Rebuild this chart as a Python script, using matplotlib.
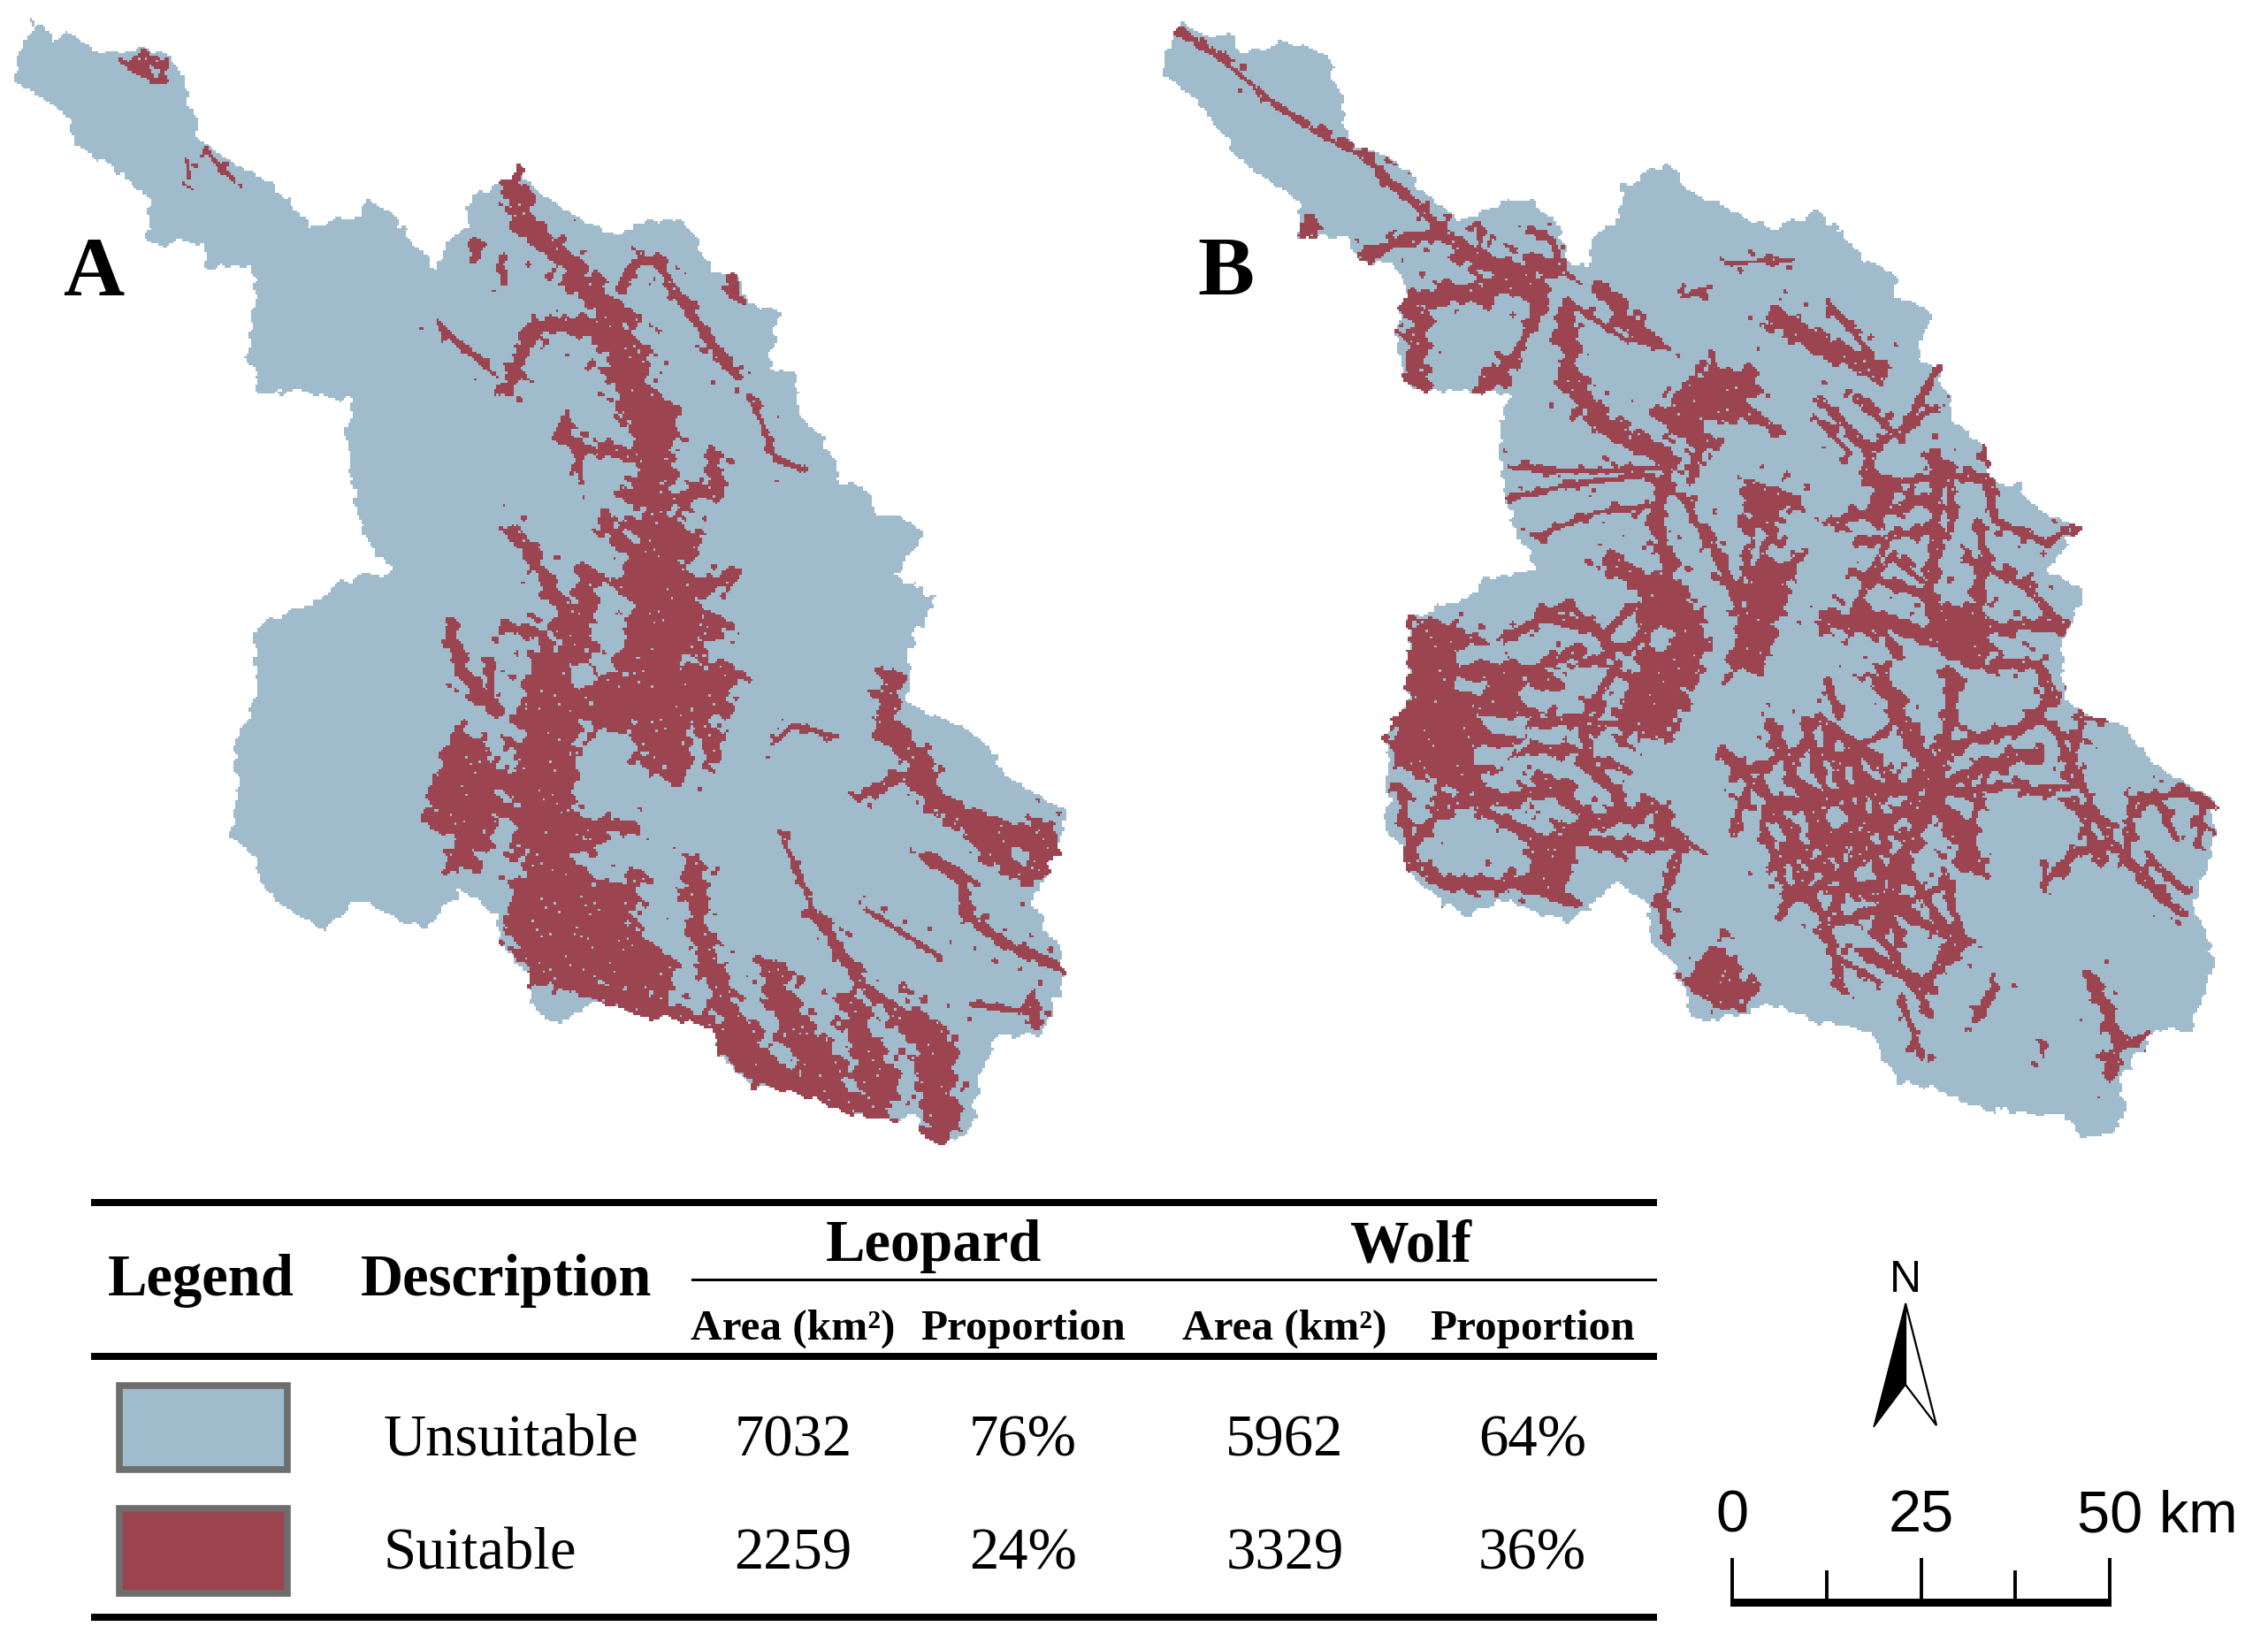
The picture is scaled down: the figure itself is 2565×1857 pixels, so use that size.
import numpy as np
import matplotlib
matplotlib.use("Agg")
import matplotlib.pyplot as plt
from matplotlib.patches import Polygon, Rectangle
from matplotlib.path import Path

BLUE = "#A0BBCC"
RED = "#9C444F"
SERIF = "Liberation Serif"
SANS = "Liberation Sans"

# ---- table ----
species = ["Leopard", "Wolf"]
classes = ["Unsuitable", "Suitable"]
leopard_area = [7032, 2259]
leopard_prop = ["76%", "24%"]
wolf_area = [5962, 3329]
wolf_prop = ["64%", "36%"]
scale_km = [0, 12.5, 25, 37.5, 50]
scale_labels = {0: "0", 25: "25"}

# ---- map A ----
outline_a = [(45,30),(75,50),(105,50),(130,72),(165,70),(190,65),(225,68),(245,85),(258,115),(268,150),(280,185),(315,212),(355,232),(395,262),(430,300),(470,293),(490,292),(512,268),(545,285),(580,330),(605,362),(618,318),(645,310),(655,262),(700,240),(720,222),(745,250),(790,285),(850,315),(885,295),(945,292),(975,335),(985,360),(1025,365),(1035,402),(1082,415),(1065,490),(1100,495),(1112,560),(1155,600),(1160,635),(1205,650),(1210,680),(1250,685),(1283,708),(1240,760),(1298,790),(1258,860),(1260,930),(1290,945),(1345,965),(1400,1030),(1450,1060),(1478,1075),(1470,1120),(1430,1200),(1470,1260),(1475,1290),(1440,1375),(1385,1365),(1360,1420),(1350,1480),(1335,1510),(1290,1510),(1265,1480),(1195,1480),(1165,1470),(1100,1445),(1040,1440),(1000,1400),(985,1360),(900,1345),(830,1325),(770,1355),(745,1340),(730,1290),(690,1240),(690,1210),(640,1180),(590,1228),(560,1220),(500,1190),(450,1230),(400,1205),(370,1180),(345,1125),(322,1105),(330,1050),(325,985),(355,930),(355,830),(450,790),(470,770),(550,755),(510,720),(495,680),(480,580),(490,530),(420,520),(360,520),(345,480),(350,400),(360,385),(345,355),(290,355),(280,325),(205,320),(210,265),(160,225),(110,195),(85,150),(20,105),(20,85)]
blobs_a = [
 [(170,85),(205,68),(240,85),(225,115),(190,100)],
 [(595,1050),(630,960),(680,985),(700,1060),(660,1150),(610,1155),(625,1110),(590,1100)],
 [(710,1160),(790,1130),(830,1170),(900,1150),(880,1220),(935,1280),(925,1325),(830,1310),(760,1310),(700,1245)],
 [(820,900),(900,870),(1015,880),(1010,960),(960,950),(950,1030),(920,1030),(880,960),(820,980)],
 [(880,720),(975,700),(950,760),(1015,760),(960,800),(1015,830),(960,870),(860,880),(870,800),(850,770)],
 [(830,420),(880,440),(905,520),(945,550),(930,640),(870,650),(880,590),(850,530)],
 [(735,860),(790,860),(815,770),(830,760),(820,880),(840,920),(800,980),(800,1090),(860,1090),(800,1130),(820,1160),(720,1120),(700,1050),(720,980)],
 [(700,240),(730,230),(745,300),(840,375),(860,420),(830,430),(760,340),(700,290)],
 [(1000,1365),(1040,1350),(1100,1430),(1040,1440)],
 [(1060,1290),(1100,1330),(1170,1400),(1180,1470),(1110,1440)],
 [(1170,1330),(1250,1420),(1240,1470),(1190,1480)],
 [(1250,1310),(1320,1370),(1330,1500),(1280,1500)],
 [(1340,1080),(1440,1090),(1470,1140),(1420,1175),(1350,1130)],
 [(1210,950),(1250,950),(1300,1040),(1270,1070),(1240,1000)],
]
holes_a = [[(205,85),(222,92),(215,100)],[(1395,1118),(1430,1125),(1420,1150)],[(790,880),(818,878),(825,905),(795,912)]]
branches_a = [
 (26,[(712,235),(720,285),(760,325)]),(30,[(760,325),(810,375),(845,420)]),
 (55,[(845,420),(870,490),(895,560)]),(44,[(895,560),(910,640),(910,700)]),
 (70,[(910,700),(920,790),(915,860),(905,910)]),(12,[(860,385),(880,350),(910,348),(935,385),(975,440),(1020,500)]),
 (20,[(740,435),(790,430),(840,440)]),(16,[(740,435),(720,480),(705,515)]),
 (4,[(605,425),(640,460),(690,500)]),(12,[(1015,370),(1020,395)]),(12,[(655,325),(660,340)]),(9,[(695,350),(700,375)]),
 (5,[(1040,525),(1060,570),(1075,610),(1115,622)]),(14,[(775,575),(810,595),(880,605)]),(6,[(785,545),(790,590)]),(6,[(800,600),(805,640)]),
 (20,[(870,655),(930,660),(990,650),(990,615)]),(20,[(840,695),(880,730),(950,710)]),(14,[(855,770),(920,770),(1010,770)]),
 (8,[(1015,755),(970,790)]),(8,[(950,800),(1015,830)]),(26,[(860,880),(1010,900)]),
 (34,[(905,910),(940,1020)]),(22,[(960,930),(990,1000)]),(34,[(880,920),(900,1000)]),(50,[(830,925),(900,935)]),
 (18,[(710,700),(750,755),(790,820)]),(40,[(790,820),(790,900),(760,950)]),(24,[(815,760),(800,850)]),(16,[(700,830),(750,840),(770,880)]),
 (72,[(770,900),(745,1000),(745,1100),(780,1180),(810,1260)]),(16,[(625,835),(640,890),(690,940)]),(10,[(680,875),(680,930)]),
 (14,[(800,1090),(880,1095)]),(10,[(800,1120),(840,1110)]),(30,[(700,1030),(640,1060)]),
 (26,[(740,1290),(830,1310),(930,1340),(1000,1365),(1040,1420),(1110,1440),(1170,1465)]),
 (28,[(960,1150),(970,1240),(1010,1340),(1050,1410)]),(38,[(1070,1290),(1110,1380),(1170,1460)]),(36,[(1180,1330),(1210,1420),(1210,1475)]),
 (5,[(1085,1110),(1130,1210)]),(14,[(1130,1210),(1200,1310),(1260,1350)]),(38,[(1260,1350),(1300,1400),(1300,1500)]),
 (26,[(1235,900),(1225,960),(1280,1010),(1290,1060),(1360,1100),(1420,1160),(1465,1130),(1440,1095)]),
 (14,[(1200,1050),(1260,1025)]),(4,[(1070,985),(1100,960),(1160,975)]),
 (14,[(1285,1135),(1330,1160),(1340,1210),(1390,1250),(1470,1280)]),(5,[(1200,1205),(1260,1240),(1300,1265)]),
 (5,[(1345,1330),(1430,1340)]),(14,[(1430,1320),(1435,1355)]),(3,[(285,200),(325,240)]),(3,[(260,215),(262,235)]),
]

# ---- map B ----
outline_b = [(68,30),(105,48),(135,45),(150,70),(210,60),(265,70),(290,130),(300,195),(350,210),(410,255),(450,295),(520,268),(550,262),(590,300),(600,345),(632,355),(638,310),(665,300),(680,245),(740,218),(770,255),(850,290),(885,305),(940,282),(990,315),(1010,350),(1050,365),(1055,395),(1103,408),(1080,480),(1115,490),(1135,560),(1175,590),(1190,640),(1225,640),(1250,680),(1305,700),(1265,755),(1315,780),(1285,850),(1285,925),(1310,945),(1365,960),(1420,1020),(1495,1060),(1490,1130),(1465,1200),(1495,1270),(1460,1365),(1410,1365),(1365,1430),(1370,1480),(1345,1503),(1310,1505),(1285,1475),(1220,1475),(1170,1465),(1110,1440),(1060,1435),(1030,1390),(1020,1365),(950,1355),(880,1330),(820,1350),(775,1350),(755,1290),(715,1245),(715,1200),(670,1165),(610,1220),(570,1210),(505,1190),(470,1215),(420,1190),(390,1170),(370,1120),(347,1095),(355,1040),(350,975),(380,925),(380,820),(470,790),(490,765),(565,755),(535,720),(515,660),(505,570),(520,525),(470,520),(385,515),(365,470),(370,410),(380,395),(365,350),(315,348),(300,315),(230,315),(230,270),(180,235),(135,195),(105,150),(45,100),(45,80)]
blobs_b = [
 [(228,295),(245,282),(262,305),(250,315),(232,312)],
 [(380,825),(440,820),(510,850),(540,890),(600,880),(570,950),(510,1010),(470,1060),(420,1040),(370,1020),(350,975),(380,925)],
 [(545,1110),(620,1100),(600,1190),(545,1170)],
 [(760,1290),(820,1240),(840,1290),(875,1310),(810,1345),(780,1320)],
 [(1110,810),(1170,790),(1195,860),(1170,890),(1110,870)],
 [(375,390),(410,385),(410,510),(380,510)],
 [(735,580),(750,525),(800,490),(870,500),(850,560),(790,560),(775,590)],
 [(690,760),(750,750),(800,840),(770,920),(740,980),(680,985),(660,960),(700,860)],
 [(845,650),(915,650),(880,740),(910,760),(880,880),(820,900),(840,790)],
 [(1015,640),(1060,640),(1060,680),(1020,690)],
]
holes_b = [
 [(445,862),(510,850),(520,875),(450,880)],[(480,950),(550,950),(540,975),(495,970)],[(470,990),(530,990),(510,1015),(475,1010)],
 [(535,905),(590,920),(570,945),(535,930)],[(450,900),(490,905),(480,920),(445,915)],[(715,830),(750,840),(735,865),(715,855)],
 [(815,640),(840,650),(830,700)],[(860,700),(875,710),(855,760)],
]
branches_b = [
 (4,[(68,40),(130,85),(200,140),(260,180),(320,210)]),(10,[(320,210),(380,260),(420,300)]),(14,[(420,300),(470,340)]),
 (26,[(460,335),(530,360),(590,355)]),(8,[(550,305),(580,320),(590,350),(555,380)]),(5,[(480,295),(480,340)]),
 (14,[(320,340),(375,320),(420,310),(460,330)]),(26,[(390,400),(480,385),(550,375)]),
 (28,[(555,380),(560,410)]),(9,[(560,410),(530,470),(480,520)]),(24,[(520,480),(490,510)]),
 (26,[(600,420),(605,510),(650,560),(740,610)]),(4,[(600,400),(680,450),(735,460)]),(22,[(650,385),(680,420),(715,445)]),
 (5,[(520,620),(640,625),(740,620)]),(5,[(520,660),(620,640),(720,630)]),(4,[(560,710),(640,680),(720,670)]),
 (18,[(740,620),(720,690),(745,750),(720,790)]),(24,[(660,740),(700,770)]),
 (28,[(740,550),(780,510),(850,500)]),(28,[(750,560),(790,590)]),(10,[(770,640),(790,580)]),(8,[(800,470),(810,510)]),(8,[(850,540),(890,575)]),
 (24,[(850,650),(910,660)]),(22,[(860,730),(860,880)]),(26,[(880,700),(860,760)]),(14,[(790,700),(830,780),(860,870)]),(8,[(760,660),(820,760)]),(14,[(870,790),(915,740)]),
 (24,[(890,420),(960,460),(1030,490)]),(6,[(960,400),(1020,470)]),(9,[(950,530),(1000,580)]),(4,[(760,395),(800,380)]),(3,[(820,350),(910,345)]),
 (8,[(1000,530),(1060,580),(1110,490)]),(6,[(950,560),(990,600)]),
 (7,[(1010,600),(1060,570),(1110,540)]),(14,[(1010,590),(1030,660),(1030,700)]),(18,[(1110,600),(1110,700),(1100,800),(1130,870)]),
 (8,[(1150,620),(1180,640),(1190,690),(1260,720),(1300,700)]),(14,[(970,690),(1030,680),(1110,660)]),(10,[(1000,720),(1110,700)]),
 (8,[(1010,640),(1180,630)]),(10,[(1180,590),(1190,690)]),(10,[(1130,620),(1130,700)]),(10,[(1010,800),(1060,870)]),(10,[(1150,740),(1240,780),(1280,830)]),(8,[(1030,740),(1000,800)]),
 (28,[(960,820),(1060,830),(1130,850)]),(14,[(1170,760),(1170,830),(1280,830)]),(7,[(1010,770),(1050,740),(1090,770)]),
 (14,[(1190,880),(1250,880),(1270,920),(1240,960),(1130,990),(1090,1040)]),(10,[(1000,760),(1100,790)]),(10,[(1170,700),(1180,760)]),
 (18,[(1130,890),(1130,960),(1110,1030)]),(24,[(1030,890),(1060,950),(1100,1020)]),(8,[(960,900),(975,950)]),
 (32,[(1100,1040),(1160,1140)]),(24,[(1100,1060),(1060,1140),(1030,1230)]),(22,[(1090,1040),(990,1050),(880,1070)]),
 (18,[(1090,1060),(960,1130),(900,1200)]),(14,[(1060,1040),(950,950)]),(18,[(1100,1050),(1190,1010),(1250,1000)]),(10,[(1130,1050),(1220,1040)]),
 (16,[(880,960),(930,1060),(960,1150)]),(14,[(820,1000),(880,1060),(930,1130)]),(14,[(930,960),(960,1060)]),
 (14,[(1000,1000),(1010,1100),(970,1200)]),(10,[(900,1120),(960,1230),(980,1310)]),(10,[(1060,1140),(1130,1240),(1090,1320)]),
 (14,[(1010,1260),(1090,1300),(1150,1250)]),(10,[(1020,1120),(1060,1250)]),(10,[(870,1090),(900,1170)]),(5,[(1060,1320),(1090,1400)]),
 (10,[(850,1040),(830,1100)]),(10,[(1040,970),(980,1000)]),(10,[(960,1180),(1030,1170)]),(8,[(1130,1170),(1060,1200)]),
 (12,[(830,1030),(930,990),(1000,1010)]),(12,[(880,1150),(1000,1090)]),(12,[(920,1190),(1040,1120)]),(10,[(950,1230),(1070,1190)]),(10,[(1000,1180),(1140,1250)]),
 (6,[(960,1260),(1030,1300)]),(10,[(1040,1250),(1100,1340)]),(12,[(870,1040),(920,1130)]),(12,[(960,980),(1000,1100)]),(14,[(1020,1040),(1040,1120)]),(12,[(940,1060),(1000,1190)]),
 (8,[(1150,1120),(1180,1020)]),(10,[(1120,1150),(1140,1230)]),
 (20,[(430,1060),(520,1060),(600,1040)]),(14,[(380,1125),(430,1075)]),(16,[(480,1070),(560,1110),(700,1120),(760,1120)]),(18,[(390,1140),(430,1170),(520,1170),(600,1190)]),
 (22,[(600,1100),(720,1070),(760,1120)]),(10,[(760,1120),(730,1200),(740,1240)]),(12,[(560,820),(640,830),(670,880),(620,960),(640,1030)]),
 (14,[(520,900),(620,860)]),(12,[(550,960),(640,950)]),(14,[(620,1000),(690,1080)]),(10,[(370,1040),(385,1130)]),(16,[(560,1030),(640,1090)]),
 (10,[(510,850),(600,800)]),(8,[(600,800),(650,840),(700,800)]),(10,[(620,880),(700,850)]),(10,[(640,960),(700,960)]),(10,[(500,1000),(600,990),(680,1020)]),
 (10,[(1270,960),(1290,1000),(1340,1100),(1420,1190),(1450,1210)]),(10,[(1380,1060),(1450,1050),(1495,1070)]),
 (10,[(1380,1060),(1370,1140),(1430,1190)]),(10,[(1260,1170),(1300,1130),(1360,1120)]),(4,[(1300,950),(1360,955)]),(9,[(1230,1050),(1310,1040)]),
 (4,[(1260,1150),(1260,1180)]),(6,[(1400,1130),(1450,1180)]),(12,[(1300,1060),(1340,1140)]),(8,[(1410,1050),(1440,1110)]),(8,[(1480,1060),(1470,1120)]),(10,[(1310,960),(1290,1030)]),(6,[(1370,1090),(1400,1060)]),
 (14,[(1320,1290),(1360,1370),(1350,1420)]),(8,[(1340,1400),(1400,1370)]),(12,[(1190,1310),(1165,1350)]),(3,[(1255,1380),(1258,1400)]),
]

fig = plt.figure(figsize=(25.65, 18.58), dpi=100, facecolor="white")
ax = fig.add_axes([0, 0, 1, 1])
ax.axis("off")

CELL = 2.5   # the reference is a raster map; cells are this many pixels wide

def seg_dist(X, Y, a, b):
    dx, dy = b[0]-a[0], b[1]-a[1]
    t = np.clip(((X-a[0])*dx + (Y-a[1])*dy) / max(dx*dx+dy*dy, 1e-6), 0, 1)
    return np.hypot(X-a[0]-t*dx, Y-a[1]-t*dy)

def edge_texture(X, Y):
    # fixed, non-random ripple that roughens the edge of every read-off shape
    t = (np.sin(0.21*X+0.09*Y+0.3) + np.sin(-0.12*X+0.24*Y+1.1) + np.sin(0.07*X-0.16*Y+2.3)
         + 0.7*np.sin(0.37*X+0.27*Y+0.7) + 0.7*np.sin(-0.31*X+0.43*Y+1.9))
    return t/2.6

def signed(X, Y, flat, p):
    ring = p + p[:1]
    d = np.min([seg_dist(X, Y, u, v) for u, v in zip(ring, ring[1:])], axis=0)
    inside = Path(p).contains_points(flat).reshape(X.shape)
    return np.where(inside, -d, d)

def raster(mask, color, gx, gy, z):
    rgba = np.zeros(mask.shape+(4,))
    rgba[..., :3] = matplotlib.colors.to_rgb(color)
    rgba[..., 3] = mask
    ax.imshow(rgba, extent=(gx[0], gx[-1]+CELL, gy[-1]+CELL, gy[0]), origin="upper",
              interpolation="nearest", aspect="auto", zorder=z)

def draw_map(outline, blobs, branches, holes, sx, sy, x0):
    tr = lambda pts: [(p[0]*sx + x0, p[1]*sy) for p in pts]
    o = tr(outline)
    xs = [p[0] for p in o]; ys = [p[1] for p in o]
    gx = np.arange(min(xs)-12, max(xs)+12, CELL); gy = np.arange(min(ys)-12, max(ys)+12, CELL)
    X, Y = np.meshgrid(gx+CELL/2, gy+CELL/2)
    flat = np.c_[X.ravel(), Y.ravel()]
    tex = edge_texture(X, Y)
    land = signed(X, Y, flat, o) < tex*4
    mask = np.zeros(X.shape, bool)
    for w, pts in branches:
        p = tr(pts)
        d = np.min([seg_dist(X, Y, a, b) for a, b in zip(p, p[1:])], axis=0)
        half = w*sx/2
        mask |= d < half*(1 + 0.55*tex) + 8*np.maximum(tex, 0)**2 + 1.2
    for b in blobs:
        mask |= signed(X, Y, flat, tr(b)) < tex*9
    for h in holes:
        mask &= ~(signed(X, Y, flat, tr(h)) < tex*3)
    fleck = (np.sin(0.71*X+0.29*Y) + np.sin(-0.39*X+0.83*Y+0.6) + np.sin(0.97*X-0.59*Y+1.4)
             + np.sin(0.173*X+0.611*Y+2.2) + np.sin(-0.857*X-0.131*Y+0.9))
    mask &= fleck < 3.5
    raster(land, BLUE, gx, gy, 2)
    raster(mask & land, RED, gx, gy, 3)

draw_map(outline_a, blobs_a, branches_a, holes_a, 0.8168, 0.855, 0)
draw_map(outline_b, blobs_b, branches_b, holes_b, 0.82, 0.855, 1280)
ax.set_xlim(0, 2565)
ax.set_ylim(1858, 0)

def T(x, y, s, size, weight="normal", ha="center", family=SERIF):
    ax.text(x, y, s, fontsize=size, fontweight=weight, ha=ha, va="baseline", family=family, color="black", zorder=6)

T(106, 334, "A", 69, "bold")
T(1386, 334, "B", 69, "bold")

# table rules
for y, h, x0 in [(1361, 8, 103), (1448, 3, 782), (1535, 8, 103), (1830, 8, 103)]:
    ax.add_patch(Rectangle((x0, y-h/2), 1874-x0, h, fc="black", ec="none", zorder=5))

T(227, 1465, "Legend", 48, "bold")
T(573, 1465, "Description", 48, "bold")
T(1056, 1426, species[0], 48, "bold")
T(1596, 1426, species[1], 48, "bold")
for x, s in zip([897, 1157, 1453, 1733], ["Area (km²)", "Proportion", "Area (km²)", "Proportion"]):
    T(x, 1515, s, 35.5, "bold")

rows_y = [1647, 1775]
swatch_y = [(1564, 1667), (1703, 1807)]
for i, cl in enumerate(classes):
    y0, y1 = swatch_y[i]
    ax.add_patch(Rectangle((135, y0+4), 190, y1-y0-8, fc=[BLUE, RED][i], ec="#6E6E6E", lw=5.5, zorder=5))
    T(434, rows_y[i], cl, 48, ha="left")
    T(897, rows_y[i], str(leopard_area[i]), 48)
    T(1157, rows_y[i], leopard_prop[i], 48)
    T(1453, rows_y[i], str(wolf_area[i]), 48)
    T(1733, rows_y[i], wolf_prop[i], 48)

# north arrow
T(2155, 1461, "N", 36, family=SANS)
ax.add_patch(Polygon([(2155, 1475), (2119, 1615), (2155, 1567)], closed=True, fc="black", ec="black", lw=1, zorder=5))
ax.add_patch(Polygon([(2155, 1475), (2190, 1613), (2155, 1567)], closed=True, fc="white", ec="black", lw=1.6, zorder=5))

# scale bar
sx0, sx1 = 1959, 2386
km2x = lambda k: sx0 + (sx1-sx0)*k/50
for k in scale_km:
    top = 1763 if k in (0, 25, 50) else 1777
    ax.plot([km2x(k)]*2, [top, 1814], color="black", lw=2.8, solid_capstyle="butt", zorder=5)
ax.add_patch(Rectangle((sx0-2, 1809), sx1-sx0+4, 9, fc="black", ec="none", zorder=5))
T(km2x(0), 1733, scale_labels[0], 48, family=SANS)
T(km2x(25), 1733, scale_labels[25], 48, family=SANS)
T(2349, 1733, "50 km", 48, ha="left", family=SANS)

fig.savefig("out.png", dpi=100, facecolor="white")
